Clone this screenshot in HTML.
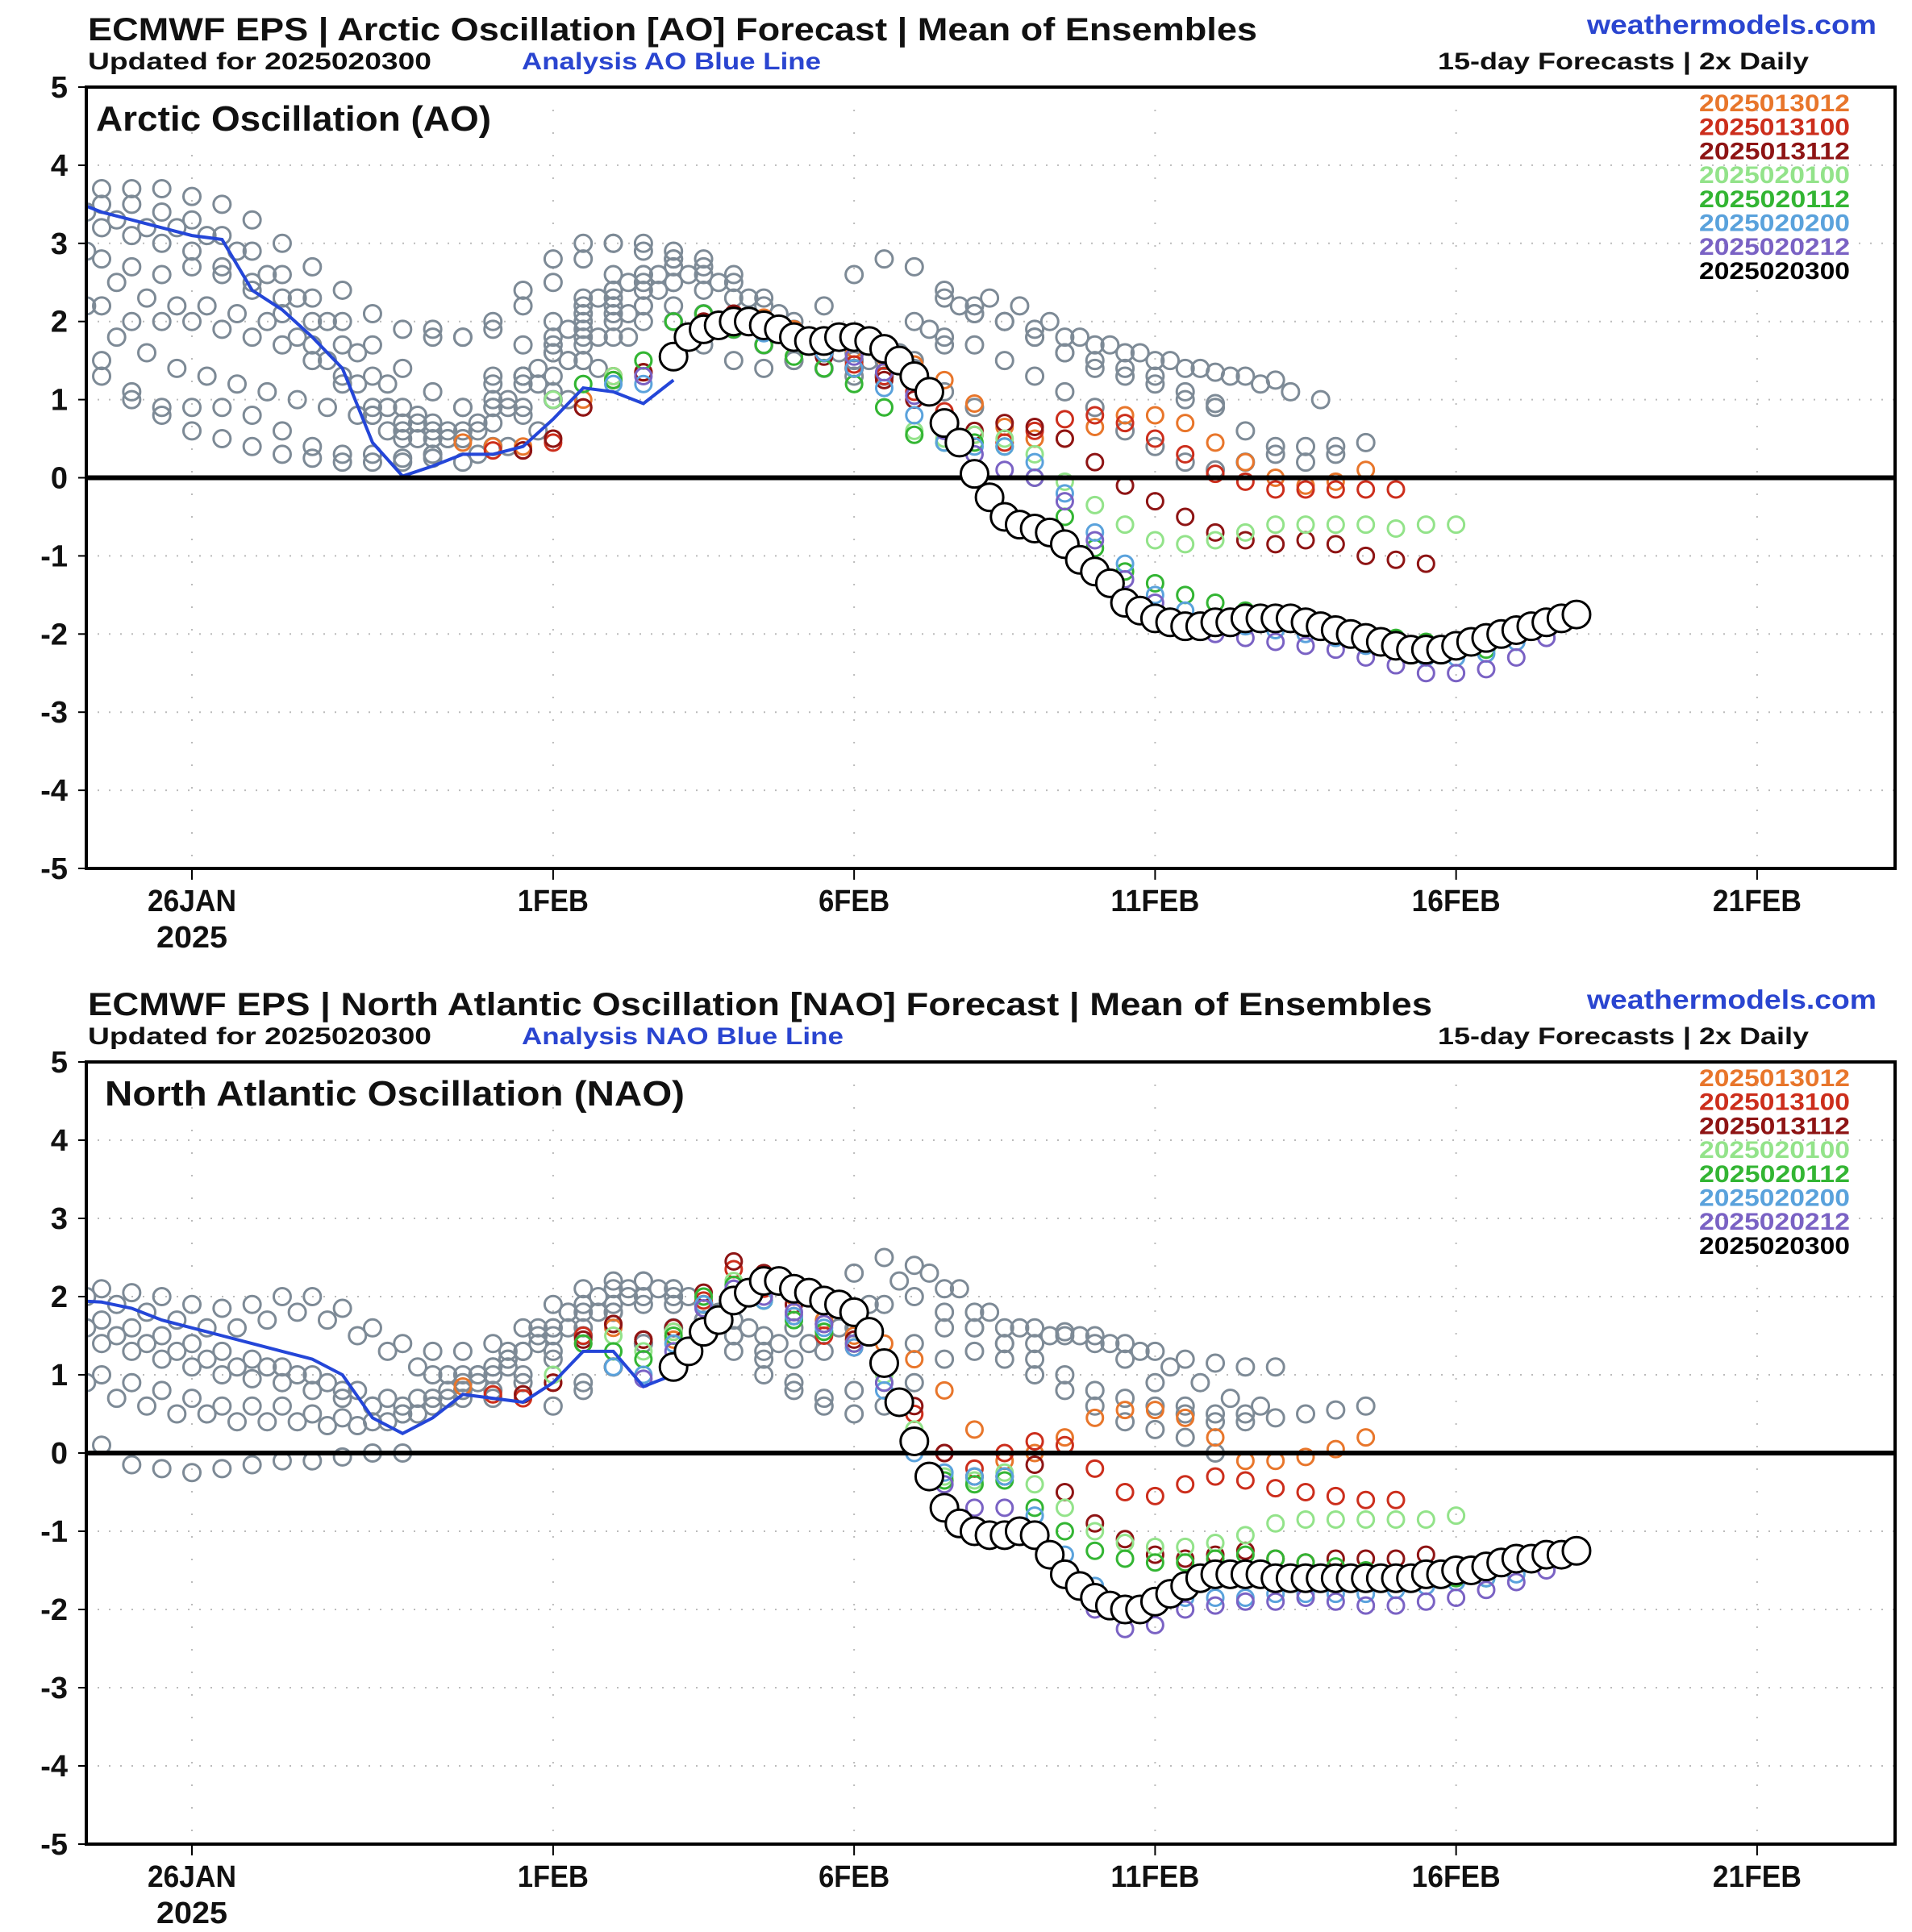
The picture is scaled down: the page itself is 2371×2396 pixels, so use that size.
<!DOCTYPE html>
<html><head><meta charset="utf-8"><title>ECMWF EPS AO / NAO Forecast</title>
<style>
html,body{margin:0;padding:0;background:#fff;}
svg{display:block;font-family:"Liberation Sans",sans-serif;}
</style></head>
<body>
<svg id="chart" xmlns="http://www.w3.org/2000/svg" width="2371" height="2396" viewBox="0 0 2371 2396"></svg>
<script>
// ---- shared axis data ----
const yTicks = [5,4,3,2,1,0,-1,-2,-3,-4,-5];
const xTickDays = [0,6,11,16,21,26];
const xTickLabels = ["26JAN","1FEB","6FEB","11FEB","16FEB","21FEB"];
const legendNames = ["2025013012","2025013100","2025013112","2025020100","2025020112","2025020200","2025020212","2025020300"];
const seriesStarts = [4.5,5,5.5,6,6.5,7,7.5,8];
const seriesColors = ["#e8762b","#cc2e1c","#8e1414","#93e38a","#33b533","#5aa2dc","#7a62c4","#000000"];

// ---- AO data (days since 26 JAN; colored 12-hourly, mean 6-hourly) ----
const aoBlueStart = -2;
const aoBlue = [3.55,3.4,3.3,3.2,3.1,3.05,2.4,2.15,1.8,1.4,0.45,0.02,0.15,0.3,0.3,0.4,0.75,1.15,1.1,0.95,1.25];
const aoSeries = [
 [0.45,0.4,0.4,0.5,1.0,1.3,1.35,1.5,1.9,2.05,2.05,1.9,1.75,1.65,1.55,1.45,1.25,0.95,0.65,0.5,0.5,0.65,0.8,0.8,0.7,0.45,0.2,0.0,-0.1,-0.05,0.1],
 [0.35,0.35,0.45,0.9,1.3,1.35,1.5,1.95,2.1,2.0,1.8,1.6,1.45,1.3,1.1,0.85,0.55,0.45,0.6,0.75,0.8,0.7,0.5,0.3,0.05,-0.05,-0.15,-0.15,-0.15,-0.15,-0.15],
 [0.35,0.5,0.9,1.25,1.35,1.55,2.0,2.1,1.95,1.75,1.55,1.4,1.25,1.0,0.75,0.6,0.7,0.65,0.5,0.2,-0.1,-0.3,-0.5,-0.7,-0.8,-0.85,-0.8,-0.85,-1.0,-1.05,-1.1],
 [1.0,1.2,1.3,1.5,2.0,2.1,1.9,1.7,1.55,1.4,1.2,0.9,0.6,0.5,0.55,0.5,0.3,-0.05,-0.35,-0.6,-0.8,-0.85,-0.8,-0.7,-0.6,-0.6,-0.6,-0.6,-0.65,-0.6,-0.6],
 [1.2,1.25,1.5,2.0,2.1,1.9,1.7,1.55,1.4,1.2,0.9,0.55,0.45,0.45,0.4,0.0,-0.5,-0.9,-1.2,-1.35,-1.5,-1.6,-1.7,-1.75,-1.8,-1.9,-2.0,-2.05,-2.1,-2.15,-2.2],
 [1.2,1.2,1.6,1.9,1.95,1.85,1.75,1.6,1.4,1.15,0.8,0.45,0.4,0.4,0.2,-0.2,-0.7,-1.1,-1.5,-1.7,-1.8,-1.9,-1.95,-2.0,-2.05,-2.15,-2.2,-2.3,-2.3,-2.25,-2.1],
 [1.3,1.5,1.9,2.0,1.9,1.8,1.7,1.55,1.35,1.05,0.6,0.3,0.1,0.0,-0.3,-0.8,-1.3,-1.6,-1.85,-2.0,-2.05,-2.1,-2.15,-2.2,-2.3,-2.4,-2.5,-2.5,-2.45,-2.3,-2.05]
];
const aoMean = [1.55,1.8,1.9,1.95,2.0,2.0,1.95,1.9,1.8,1.75,
 1.75,1.8,1.8,1.75,1.65,1.5,1.3,1.1,0.7,0.45,
 0.05,-0.25,-0.5,-0.6,-0.65,-0.7,-0.85,-1.05,-1.2,-1.35,
 -1.6,-1.7,-1.8,-1.85,-1.9,-1.9,-1.85,-1.85,-1.8,-1.8,
 -1.8,-1.8,-1.85,-1.9,-1.95,-2.0,-2.05,-2.1,-2.15,-2.2,
 -2.2,-2.2,-2.15,-2.1,-2.05,-2.0,-1.95,-1.9,-1.85,-1.8,-1.75];
const aoGrayStarts = [-2,-2,-2,-2,-2,-2,4,5,5.5,6,3,-2,-1.75,-1.75,-1.75,6.25];
const aoGray = [
 [3.8,3.7,3.7,3.7,3.6,3.5,3.3,3.0,2.7,2.4,2.1,1.9,1.8,1.8,2.0,2.4,2.8,3.0,3.0,2.9,2.8],
 [3.3,3.2,3.1,3.0,2.9,2.7,2.5,2.3,2.0,1.7,1.3,0.9,0.6,0.5,0.7,1.2,1.8,2.3,2.6,2.6,2.5,2.4],
 [2.6,2.2,2.0,2.0,2.0,1.9,1.8,1.7,1.5,1.2,0.8,0.5,0.3,0.2,0.4,0.8,1.3,1.8,2.1,2.2],
 [1.6,1.3,1.0,0.9,0.9,0.9,0.8,0.6,0.4,0.3,0.3,0.2,0.25,0.5,0.9,1.3,1.6,1.7],
 [2.0,1.5,1.1,0.8,0.6,0.5,0.4,0.3,0.25,0.2,0.2,0.25,0.3],
 [3.0,2.8,2.7,2.6,2.7,2.6,2.4,2.1,1.7,1.3,0.9,0.6,0.5,0.6,0.9,1.3,1.6,1.9,2.2,2.4,2.5],
 [1.9,1.8,1.9,2.2,2.5,2.8,3.0,3.0,2.9,2.8,2.6,2.3,2.0,2.2,2.6,2.8,2.7,2.4,2.1,2.0,1.9,1.8,1.7,1.6,1.5,1.4,1.35,1.3,1.25],
 [1.2,1.3,1.6,2.0,2.4,2.6,2.7,2.6,2.3,2.0,1.8,1.6,1.5,1.7,2.0,2.3,2.2,2.0,1.8,1.6,1.4,1.3,1.2,1.0,0.95],
 [0.9,1.1,1.5,1.8,2.0,2.2,2.1,1.9,1.7,1.5,1.4,1.3,1.3,1.5,1.7,1.7,1.5,1.3,1.1,0.9,0.6,0.4,0.2,0.1,0.2,0.4,0.4,0.4],
 [1.0,1.5,2.0,2.5,2.8,2.7,2.5,2.2,1.9,1.6,1.4,1.3,1.4,1.8,2.1,2.0,1.8,1.6,1.5,1.4,1.3,1.1,0.9,0.6,0.3,0.2,0.3,0.45],
 [0.8,0.7,0.7,0.9,1.3,1.7,2.0,2.2,2.3,2.2,2.0,1.7,1.5,1.4,1.5,1.6,1.6,1.5,1.3,1.1,0.9],
 [3.6,3.5,3.5,3.4,3.3,3.1,2.9,2.6,2.3,2.0,1.7,1.4,1.1,0.9,1.0,1.3,1.7,2.1,2.4],
 [2.9,2.5,2.3,2.2,2.2,2.1,2.0,1.8,1.5,1.2,0.9,0.7,0.6,0.7,1.0,1.4,1.9,2.3,2.5,2.6],
 [3.4,3.3,3.2,3.2,3.1,2.9,2.6,2.3,2.0,1.6,1.2,0.8,0.5,0.3,0.4,0.6,1.0,1.4,1.8],
 [2.2,1.8,1.6,1.4,1.3,1.2,1.1,1.0,0.9,0.8,0.6,0.5,0.5,0.6,0.9,1.2,1.5],
 [1.5,1.8,2.1,2.4,2.6,2.5,2.3,2.1,1.8,1.6,1.5,1.6,1.9,2.2,2.3,2.2,2.0,1.8,1.7,1.6,1.5,1.4,1.3,1.2,1.1,1.0]
];

// ---- NAO data ----
const naoBlueStart = -2;
const naoBlue = [1.95,1.93,1.85,1.7,1.6,1.5,1.4,1.3,1.2,1.0,0.45,0.25,0.45,0.75,0.7,0.65,0.9,1.3,1.3,0.85,1.0];
const naoSeries = [
 [0.85,0.75,0.75,0.9,1.4,1.6,1.45,1.45,1.6,2.0,2.3,2.0,1.7,1.5,1.4,1.2,0.8,0.3,-0.1,0.0,0.2,0.45,0.55,0.55,0.45,0.2,-0.1,-0.1,-0.05,0.05,0.2],
 [0.75,0.7,0.9,1.5,1.65,1.45,1.55,1.95,2.35,2.1,1.75,1.5,1.35,1.1,0.5,0.0,-0.2,0.0,0.15,0.1,-0.2,-0.5,-0.55,-0.4,-0.3,-0.35,-0.45,-0.5,-0.55,-0.6,-0.6],
 [0.75,0.9,1.45,1.65,1.45,1.6,2.05,2.45,2.3,1.9,1.65,1.45,1.2,0.6,0.0,-0.3,-0.3,-0.15,-0.5,-0.9,-1.1,-1.3,-1.35,-1.3,-1.25,-1.35,-1.4,-1.35,-1.35,-1.35,-1.3],
 [1.0,1.4,1.5,1.3,1.55,2.0,2.2,1.95,1.7,1.55,1.4,1.0,0.3,-0.3,-0.35,-0.25,-0.4,-0.7,-1.0,-1.15,-1.2,-1.2,-1.15,-1.05,-0.9,-0.85,-0.85,-0.85,-0.85,-0.85,-0.8],
 [1.4,1.3,1.2,1.5,2.0,2.15,1.95,1.7,1.55,1.4,0.9,0.2,-0.35,-0.4,-0.35,-0.7,-1.0,-1.25,-1.35,-1.4,-1.4,-1.35,-1.3,-1.35,-1.4,-1.45,-1.5,-1.55,-1.6,-1.6,-1.6],
 [1.1,1.0,1.4,1.9,2.1,1.95,1.75,1.6,1.35,0.8,0.0,-0.25,-0.3,-0.3,-0.8,-1.3,-1.7,-1.95,-1.95,-1.85,-1.85,-1.85,-1.8,-1.8,-1.8,-1.8,-1.75,-1.7,-1.65,-1.6,-1.55],
 [0.95,1.3,1.85,2.1,2.0,1.8,1.65,1.4,0.9,0.1,-0.4,-0.7,-0.7,-1.0,-1.5,-2.0,-2.25,-2.2,-2.0,-1.95,-1.9,-1.9,-1.85,-1.9,-1.95,-1.95,-1.9,-1.85,-1.75,-1.65,-1.5]
];
const naoMean = [1.1,1.3,1.55,1.7,1.95,2.05,2.2,2.2,2.1,2.05,
 1.95,1.9,1.8,1.55,1.15,0.65,0.15,-0.3,-0.7,-0.9,
 -1.0,-1.05,-1.05,-1.0,-1.05,-1.3,-1.55,-1.7,-1.85,-1.95,
 -2.0,-2.0,-1.9,-1.8,-1.7,-1.6,-1.55,-1.55,-1.55,-1.55,
 -1.6,-1.6,-1.6,-1.6,-1.6,-1.6,-1.6,-1.6,-1.6,-1.6,
 -1.55,-1.55,-1.5,-1.5,-1.45,-1.4,-1.35,-1.35,-1.3,-1.3,-1.25];
const naoGrayStarts = [-2,-2,-2,-2,-2,4,5,6,6.5,-1.75,-1.75,-1.75,5.25];
const naoGray = [
 [2.1,2.1,2.05,2.0,1.9,1.85,1.9,2.0,2.0,1.85,1.6,1.4,1.3,1.3,1.4,1.6,1.9,2.1,2.2,2.2,2.1],
 [1.8,1.7,1.6,1.5,1.4,1.3,1.2,1.1,1.0,0.8,0.6,0.5,0.6,0.8,1.0,1.3,1.6,1.8,1.9],
 [1.2,1.0,0.9,0.8,0.7,0.6,0.6,0.6,0.5,0.45,0.4,0.5,0.7,0.9,1.1,1.3,1.5],
 [0.4,0.1,-0.15,-0.2,-0.25,-0.2,-0.15,-0.1,-0.1,-0.05,0.0,0.0],
 [1.5,1.4,1.3,1.2,1.1,1.0,0.95,0.9,0.8,0.7,0.6,0.6,0.6,0.7,0.8,1.0,1.3,1.6,1.8,1.9,2.0],
 [1.0,1.0,1.1,1.3,1.6,1.9,2.1,2.2,2.1,1.9,1.7,1.5,1.6,2.0,2.3,2.5,2.4,2.1,1.8,1.6,1.6,1.55,1.5,1.4,1.3,1.2,1.15,1.1,1.1],
 [0.7,0.9,1.2,1.5,1.8,2.0,1.9,1.7,1.5,1.3,1.2,1.3,1.6,1.9,2.0,1.8,1.6,1.4,1.4,1.5,1.4,1.2,0.9,0.6,0.4,0.4,0.45,0.5,0.55,0.6],
 [0.6,0.8,1.1,1.4,1.6,1.5,1.3,1.0,0.8,0.6,0.5,0.6,0.9,1.2,1.3,1.2,1.0,0.8,0.6,0.4,0.3,0.2,0.0],
 [0.9,1.1,1.4,1.6,1.7,1.5,1.2,0.9,0.7,0.8,1.1,1.4,1.6,1.6,1.4,1.2,1.0,0.8,0.7,0.6,0.5,0.5,0.5],
 [2.0,1.9,1.8,1.7,1.6,1.6,1.7,1.8,1.7,1.5,1.3,1.1,1.0,1.0,1.2,1.5,1.8,2.0,2.1],
 [1.6,1.5,1.4,1.3,1.2,1.1,1.1,1.0,0.9,0.8,0.7,0.7,0.8,1.0,1.3,1.6,1.8],
 [0.9,0.7,0.6,0.5,0.5,0.4,0.4,0.4,0.35,0.35,0.4,0.5,0.7,0.9,1.1],
 [1.2,1.4,1.6,1.8,2.0,2.1,2.0,1.8,1.6,1.4,1.4,1.6,1.9,2.2,2.3,2.1,1.8,1.6,1.5,1.5,1.4,1.3,1.1,0.9,0.7,0.6]
];

const NS = "http://www.w3.org/2000/svg";
const svg = document.getElementById("chart");
const L = 107, R = 2350;
const X0 = 238, DAY = 74.65;
function xScale(t){ return X0 + t*DAY; }
function mk(tag, attrs, parent){ const e=document.createElementNS(NS,tag); for(const k in attrs) e.setAttribute(k,attrs[k]); (parent||svg).appendChild(e); return e; }
function txt(s, attrs, parent){ const e=mk("text",attrs,parent); e.textContent=s; return e; }

function panel(top, bottom, key, titleMain, titleLen, subBlue, subLen, panelLabel, labelLen, blueStart, blue, series, mean, grayStarts, gray){
  const g = mk("g",{});
  
  
  const yScale = v => top + (5 - v) * (bottom - top) / 10;
  const clipId = key+"clip";
  const cp = mk("clipPath",{id:clipId},g); mk("rect",{x:L,y:top,width:R-L,height:bottom-top},cp);

  const t1 = txt(titleMain,{x:109,y:top-58,"font-size":40,"font-weight":"bold",fill:"#111",textLength:titleLen,lengthAdjust:"spacingAndGlyphs"},g);
  
  
  const t2 = txt("Updated for 2025020300",{x:109,y:top-22,"font-size":30,"font-weight":"bold",fill:"#111",textLength:426,lengthAdjust:"spacingAndGlyphs"},g);
  
  
  const t3 = txt(subBlue,{x:647,y:top-22,"font-size":30,"font-weight":"bold",fill:"#2a45d0",textLength:subLen,lengthAdjust:"spacingAndGlyphs"},g);
  
  
  const t4 = txt("weathermodels.com",{x:2327,y:top-66,"font-size":33,"font-weight":"bold",fill:"#2a45d0","text-anchor":"end",textLength:359,lengthAdjust:"spacingAndGlyphs"},g);
  
  
  const t5 = txt("15-day Forecasts | 2x Daily",{x:2243,y:top-22,"font-size":30,"font-weight":"bold",fill:"#111","text-anchor":"end",textLength:460,lengthAdjust:"spacingAndGlyphs"},g);
  
  

  yTicks.forEach(v=>{
    const yy=yScale(v);
    if(v!==5 && v!==-5 && v!==0){
      const gl=mk("line",{x1:L,x2:R,y1:yy,y2:yy,stroke:"#bbb","stroke-width":2,"stroke-dasharray":"2 12"},g);
      
      
    }
    mk("line",{x1:L-10,x2:L,y1:yy,y2:yy,stroke:"#000","stroke-width":2},g);
    const tl=txt(String(v),{x:84,y:yy+13,"font-size":38,"font-weight":"bold","text-anchor":"end",fill:"#111"},g);
    
    
  });
  xTickDays.forEach((d,i)=>{
    const xx=xScale(d);
    const gl=mk("line",{x1:xx,x2:xx,y1:top,y2:bottom,stroke:"#bbb","stroke-width":2,"stroke-dasharray":"2 26"},g);
    
    
    mk("line",{x1:xx,x2:xx,y1:bottom,y2:bottom+14,stroke:"#000","stroke-width":2},g);
    const tl=txt(xTickLabels[i],{x:xx,y:bottom+53,"font-size":38,"font-weight":"bold","text-anchor":"middle",fill:"#111",textLength:xTickLabels[i].length*22,lengthAdjust:"spacingAndGlyphs"},g);
    
    
  });
  const yl=txt("2025",{x:xScale(0),y:bottom+98,"font-size":38,"font-weight":"bold","text-anchor":"middle",fill:"#111",textLength:88,lengthAdjust:"spacingAndGlyphs"},g);
  
  

  const marks = mk("g",{"clip-path":"url(#"+clipId+")"},g);
  gray.forEach((arr,k)=>{
    arr.forEach((v,i)=>{
      const c=mk("circle",{cx:xScale(grayStarts[k]+i*0.5),cy:yScale(v),r:10.5,fill:"none",stroke:"#7d8a96","stroke-width":3},marks);
      
      
    });
  });
  for(let s=0;s<series.length;s++){
    series[s].forEach((v,i)=>{
      const c=mk("circle",{cx:xScale(seriesStarts[s]+i*0.5),cy:yScale(v),r:10,fill:"none",stroke:seriesColors[s],"stroke-width":3},marks);
      
      
    });
  }
  const pts = blue.map((v,i)=>xScale(blueStart+i*0.5)+","+yScale(v)).join(" ");
  const bl=mk("polyline",{points:pts,fill:"none",stroke:"#2446d8","stroke-width":4},marks);
  
  
  const z=mk("line",{x1:L,x2:R,y1:yScale(0),y2:yScale(0),stroke:"#000","stroke-width":6},g);
  
  
  const blk = mk("g",{"clip-path":"url(#"+clipId+")"},g);
  mean.forEach((v,i)=>{
    const c=mk("circle",{cx:xScale(seriesStarts[7]+i*0.25),cy:yScale(v),r:17,fill:"#fff",stroke:"#000","stroke-width":3},blk);
    
    
  });
  const fr=mk("rect",{x:L,y:top,width:R-L,height:bottom-top,fill:"none",stroke:"#000","stroke-width":4},g);
  
  
  const pl=txt(panelLabel,{x:key==="ao"?119:130,y:top+54,"font-size":44,"font-weight":"bold",fill:"#111",textLength:labelLen,lengthAdjust:"spacingAndGlyphs"},g);
  
  
  legendNames.forEach((n,i)=>{
    const le=txt(n,{x:2294,y:top+30+i*29.7,"font-size":30,"font-weight":"bold","text-anchor":"end",fill:seriesColors[i],textLength:187,lengthAdjust:"spacingAndGlyphs"},g);
    
    
  });
}

panel(108,1077,"ao","ECMWF EPS | Arctic Oscillation [AO] Forecast | Mean of Ensembles",1450,"Analysis AO Blue Line",371,"Arctic Oscillation (AO)",490,aoBlueStart,aoBlue,aoSeries,aoMean,aoGrayStarts,aoGray);
panel(1317,2287,"nao","ECMWF EPS | North Atlantic Oscillation [NAO] Forecast | Mean of Ensembles",1667,"Analysis NAO Blue Line",399,"North Atlantic Oscillation (NAO)",719,naoBlueStart,naoBlue,naoSeries,naoMean,naoGrayStarts,naoGray);
</script>
</body></html>
